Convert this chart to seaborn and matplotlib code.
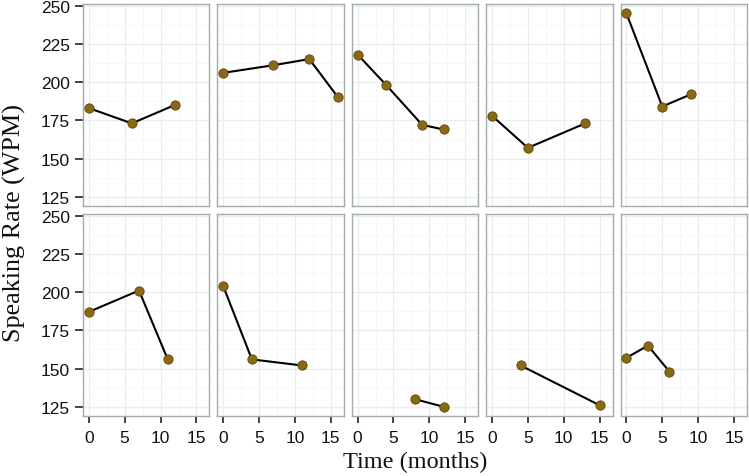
import matplotlib
matplotlib.use("Agg")
import matplotlib.pyplot as plt
from matplotlib.ticker import MultipleLocator
import seaborn as sns
import pandas as pd

subject = [1, 1, 1,
           2, 2, 2, 2,
           3, 3, 3, 3,
           4, 4, 4,
           5, 5, 5,
           6, 6, 6,
           7, 7, 7,
           8, 8,
           9, 9,
           10, 10, 10]
time_months = [0, 6, 12,
               0, 7, 12, 16,
               0, 4, 9, 12,
               0, 5, 13,
               0, 5, 9,
               0, 7, 11,
               0, 4, 11,
               8, 12,
               4, 15,
               0, 3, 6]
wpm = [183, 173, 185,
       206, 211, 215, 190,
       218, 198, 172, 169,
       178, 157, 173,
       245, 184, 192,
       187, 201, 156,
       204, 156, 152,
       130, 125,
       152, 126,
       157, 165, 148]

df = pd.DataFrame({"subject": subject, "time": time_months, "wpm": wpm})

sns.set_style("white")
plt.rcParams["font.family"] = ["Liberation Sans", "DejaVu Sans"]

g = sns.FacetGrid(df, col="subject", col_wrap=5, sharex=True, sharey=True,
                  height=2.0, aspect=1.0, despine=False)
g.map_dataframe(sns.lineplot, x="time", y="wpm", color="black", linewidth=1.5,
                estimator=None, sort=False, zorder=3)
g.map_dataframe(sns.scatterplot, x="time", y="wpm", color="#8B6914",
                edgecolor="#5a450c", linewidth=0.6, s=45, zorder=4)

fig = g.figure
fig.set_size_inches(7.49, 4.77)
fig.subplots_adjust(left=83/749, right=747/749, top=1-5/477, bottom=1-417/477,
                    wspace=8/126, hspace=8/202)

axes = g.axes.flatten()
for i, ax in enumerate(axes):
    ax.set_xlim(-0.8, 16.8)
    ax.set_ylim(119, 251)
    ax.xaxis.set_major_locator(MultipleLocator(5))
    ax.xaxis.set_minor_locator(MultipleLocator(2.5))
    ax.yaxis.set_major_locator(MultipleLocator(25))
    ax.yaxis.set_minor_locator(MultipleLocator(12.5))
    ax.grid(which="major", color="#E9EDEE", linewidth=0.9, zorder=0)
    ax.grid(which="minor", color="#F4F6F7", linewidth=0.6, zorder=0)
    ax.set_axisbelow(True)
    for sp in ax.spines.values():
        sp.set_color("#A2ACAC")
        sp.set_linewidth(1.0)
    ax.set_title("")
    ax.set_xlabel("")
    ax.set_ylabel("")
    row, col = divmod(i, 5)
    ax.tick_params(axis="both", which="minor", length=0)
    ax.tick_params(axis="x", which="major", bottom=(row == 1), labelbottom=(row == 1),
                   length=4.8, width=1.2, color="#222222", labelsize=12.5, pad=5,
                   labelcolor="#111111")
    ax.tick_params(axis="y", which="major", left=(col == 0), labelleft=(col == 0),
                   length=5.5, width=1.2, color="#222222", labelsize=12.5, pad=4,
                   labelcolor="#111111")

fig.text(415/749, 1 - 462/477, "Time (months)", ha="center", va="center",
         fontsize=17.5, family=["Liberation Serif", "DejaVu Serif"], color="#111111")
fig.text(14/749, 1 - 223/477, "Speaking Rate (WPM)", ha="center", va="center",
         rotation=90, fontsize=18.8, family=["Liberation Serif", "DejaVu Serif"],
         color="#111111")

fig.savefig("out.png", dpi=100)
